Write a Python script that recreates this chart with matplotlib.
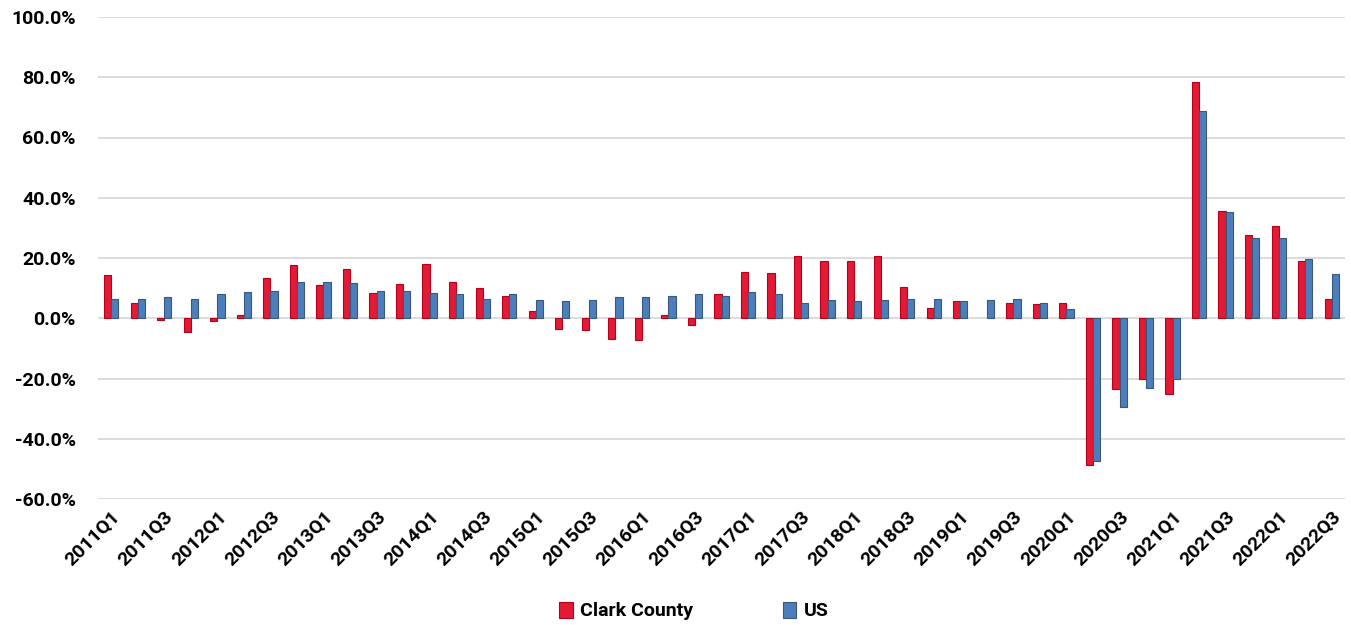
import matplotlib.pyplot as plt
import numpy as np
from matplotlib.ticker import FuncFormatter

plt.rcParams['font.family'] = ['Roboto', 'DejaVu Sans']
plt.rcParams['font.weight'] = 'bold'

# quarters 2011Q1 .. 2022Q3
quarters = [f'{y}Q{q}' for y in range(2011, 2023) for q in range(1, 5)][:47]

# 2019Q2 has no Clark County bar
clark = [14.2, 4.9, -0.7, -4.7, -1.0, 1.1, 13.3, 17.7, 11.0, 16.5, 8.4, 11.4,
         17.9, 12.1, 10.1, 7.5, 2.4, -3.6, -3.9, -6.8, -7.3, 1.2, -2.2, 7.9,
         15.3, 15.1, 20.5, 19.1, 19.0, 20.8, 10.4, 3.3, 5.8, np.nan, 5.2, 4.7,
         5.2, -48.6, -23.4, -20.0, -25.2, 78.3, 35.5, 27.5, 30.7, 19.0, 6.5]
us = [6.3, 6.3, 6.9, 6.3, 7.9, 8.6, 9.0, 12.1, 12.1, 11.8, 9.2, 9.0,
      8.4, 7.9, 6.3, 7.9, 6.1, 5.8, 6.1, 7.2, 7.2, 7.5, 7.9, 7.5,
      8.6, 7.9, 5.2, 6.1, 5.8, 6.1, 6.3, 6.3, 5.8, 6.1, 6.3, 5.2,
      3.0, -47.5, -29.5, -23.1, -20.2, 68.7, 35.2, 26.8, 26.5, 19.8, 14.6]

x = np.arange(len(quarters))
w = 0.27

fig = plt.figure(figsize=(13.51, 6.25), dpi=100)
ax = fig.add_axes([0.0725, 0.2016, 0.9231, 0.7712])

ax.bar(x - w / 2, clark, w, color='#E31A35', edgecolor='#B5001C', linewidth=0.8,
       label='Clark County', zorder=3)
ax.bar(x + w / 2, us, w, color='#4C7EBD', edgecolor='#3B5878', linewidth=0.8,
       label='US', zorder=3)

ax.set_ylim(-60, 100)
ax.set_yticks(range(-60, 101, 20))
ax.yaxis.set_major_formatter(FuncFormatter(lambda v, p: f'{v:.1f}%'))
ax.set_xlim(-0.5, len(quarters) - 0.5)
ax.set_xticks(x[::2])
ax.set_xticklabels(quarters[::2], rotation=45, ha='right', rotation_mode='anchor')

ax.grid(axis='y', color='#D9D9D9', linewidth=1.3, zorder=0)
for s in ax.spines.values():
    s.set_visible(False)
ax.tick_params(axis='both', length=0, labelsize=14)
ax.tick_params(axis='x', pad=6)
ax.tick_params(axis='y', pad=16)

ax.legend(loc='lower center', bbox_to_anchor=(0.478, -0.288), ncol=2, frameon=False,
          fontsize=14, handlelength=0.7, handleheight=0.9, handletextpad=0.4,
          columnspacing=4.6)

fig.savefig('out.png', dpi=100)
